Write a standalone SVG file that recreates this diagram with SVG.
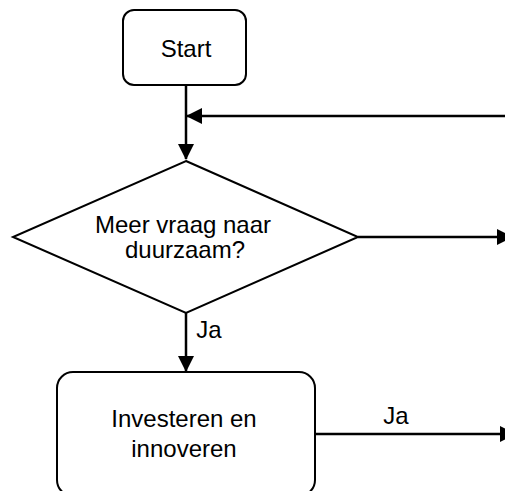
<svg xmlns="http://www.w3.org/2000/svg" width="505" height="491" viewBox="0 0 505 491">
  <style>
    .shape { fill: #ffffff; stroke: #000000; stroke-width: 2; }
    .edge { fill: none; stroke: #000000; stroke-width: 2.5; }
    .label { font-family: "Liberation Sans", Arial, sans-serif; font-size: 24px; fill: #000000; text-anchor: middle; }
  </style>
  <defs>
    <marker id="arrow" viewBox="0 0 16 16" refX="15" refY="8" markerWidth="16" markerHeight="16" markerUnits="userSpaceOnUse" orient="auto">
      <path d="M0,0 L16,8 L0,16 Z" fill="#000000"/>
    </marker>
  </defs>
  <rect width="505" height="491" fill="#ffffff"/>

  <g id="connectors">
    <path class="edge" d="M186,85 L186,159" marker-end="url(#arrow)"/>
    <path class="edge" d="M505,116 L187,116" marker-end="url(#arrow)"/>
    <path class="edge" d="M358,237 L512,237" marker-end="url(#arrow)"/>
    <path class="edge" d="M186,313 L186,371" marker-end="url(#arrow)"/>
    <text class="label" x="209" y="338">Ja</text>
    <path class="edge" d="M315,434 L515,434" marker-end="url(#arrow)"/>
    <text class="label" x="396" y="424">Ja</text>
  </g>

  <g id="start">
    <rect class="shape" x="123" y="10" width="123" height="75" rx="11"/>
    <text class="label" x="186" y="57">Start</text>
  </g>

  <g id="decision">
    <polygon class="shape" points="186,161 358,237 186,313 13,237"/>
    <text class="label" x="183" y="233">Meer vraag naar</text>
    <text class="label" x="185" y="258">duurzaam?</text>
  </g>

  <g id="invest">
    <rect class="shape" x="57" y="372" width="258" height="124" rx="16"/>
    <text class="label" x="184" y="427">Investeren en</text>
    <text class="label" x="184" y="457">innoveren</text>
  </g>
</svg>
